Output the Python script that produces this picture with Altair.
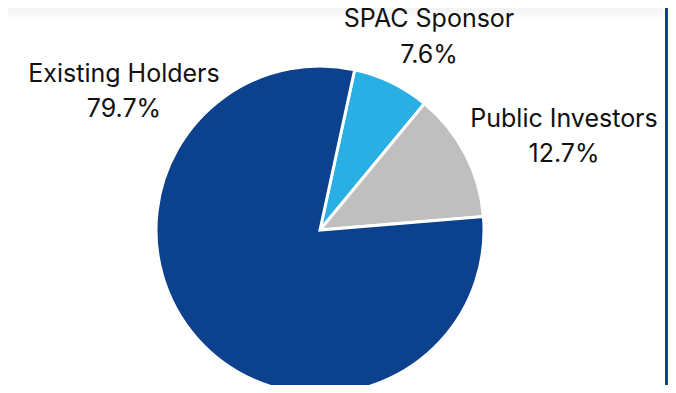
import altair as alt
import pandas as pd
import math

categories = ["SPAC Sponsor", "Public Investors", "Existing Holders"]
shares = [7.6, 12.7, 79.7]
labels = ["7.6%", "12.7%", "79.7%"]
colors = ["#29afe3", "#bfbfbf", "#0c418e"]
stack_order = [1, 2, 3]

df = pd.DataFrame({"category": categories, "share": shares, "label": labels, "ord": stack_order})

start = math.radians(12.2)

base = alt.Chart(df)

pie = base.mark_arc(radius=164, stroke="white", strokeWidth=3).encode(
    theta=alt.Theta("share:Q", stack=True, scale=alt.Scale(range=[start, start + 2 * math.pi])),
    order=alt.Order("ord:Q"),
    color=alt.Color("category:N", scale=alt.Scale(domain=categories, range=colors), legend=None),
    x=alt.value(312),
    y=alt.value(222),
)

# (center x, baseline of first line, baseline of second line) in chart pixels
label_pos = {
    "Existing Holders": (116, 74, 109),
    "SPAC Sponsor": (421, 19, 55),
    "Public Investors": (556, 119, 154),
}

layers = [pie]
for cat, (lx, ly1, ly2) in label_pos.items():
    sub = base.transform_filter(alt.datum.category == cat)
    layers.append(sub.mark_text(font="Inter", fontSize=25, color="#111111", align="center",
                                baseline="alphabetic", clip=False).encode(
        x=alt.value(lx), y=alt.value(ly1), text="category:N"))
    layers.append(sub.mark_text(font="Inter", fontSize=25, color="#111111", align="center",
                                baseline="alphabetic", clip=False).encode(
        x=alt.value(lx), y=alt.value(ly2), text="label:N"))

border = base.transform_filter(alt.datum.ord == 1).mark_rect(color="#0d4291", clip=False).encode(
    x=alt.value(657), x2=alt.value(660), y=alt.value(-8), y2=alt.value(377))

shadow = base.transform_filter(alt.datum.ord == 1).mark_rect(clip=False, fill=alt.Gradient(
    gradient="linear", x1=0, y1=0, x2=0, y2=1,
    stops=[alt.GradientStop(color="#ececec", offset=0), alt.GradientStop(color="#ffffff", offset=1)])).encode(
    x=alt.value(-8), x2=alt.value(655), y=alt.value(-8), y2=alt.value(14))

chart = alt.layer(shadow, *layers, border).properties(
    width=660, height=377, padding=0, background="white",
    autosize=alt.AutoSizeParams(type="none")
).configure_view(stroke=None)

chart.save("out.html", embed_options={"renderer": "svg", "actions": False})
